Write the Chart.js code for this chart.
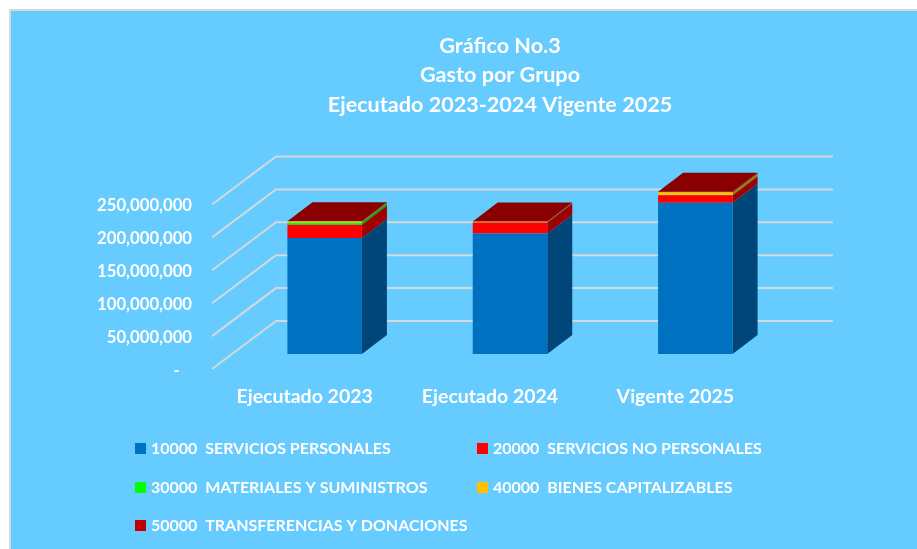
<!DOCTYPE html>
<html>
<head>
<meta charset="utf-8">
<style>
html,body{margin:0;padding:0;background:#fff;overflow:hidden}
canvas{display:block}
</style>
<script src="https://cdn.jsdelivr.net/npm/chart.js@4"></script>
</head>
<body>
<canvas id="c" width="917" height="549"></canvas>
<script>
const categories = ["Ejecutado 2023", "Ejecutado 2024", "Vigente 2025"];
const serviciosPersonales = [176300000, 183000000, 229700000];
const serviciosNoPersonales = [20300000, 17000000, 11600000];
const materiales = [3000000, 300000, 300000];
const bienes = [1900000, 800000, 4400000];
const transferencias = [400000, 400000, 500000];
const titleLines = ["Gráfico No.3", "Gasto por Grupo", "Ejecutado 2023-2024 Vigente 2025"];
const FONT = "Lato, 'Open Sans', sans-serif";

const shade = (hex, f) => {
  const n = parseInt(hex.slice(1), 16);
  return `rgb(${((n >> 16) & 255) * f | 0},${((n >> 8) & 255) * f | 0},${(n & 255) * f | 0})`;
};

const depthPlugin = {
  id: 'depth',
  beforeDraw(chart) {
    const c = chart.ctx;
    c.save();
    c.fillStyle = '#fff';
    c.fillRect(0, 0, chart.width, chart.height);
    c.fillStyle = '#D9D9D9';
    c.fillRect(9, 9, chart.width - 9, chart.height - 9);
    c.fillStyle = '#66CBFF';
    c.fillRect(11, 11, chart.width - 11, chart.height - 11);
    c.restore();
  },
  beforeDatasetsDraw(chart) {
    const c = chart.ctx, ys = chart.scales.y, xs = chart.scales.x;
    c.save();
    c.translate(0, -1.5);
    // floor / wall gridlines
    c.strokeStyle = '#D4D9DC';
    c.lineWidth = 2;
    ys.ticks.forEach(t => {
      const y = ys.getPixelForValue(t.value);
      c.beginPath();
      c.moveTo(xs.left, y);
      c.lineTo(xs.left + 64, y - 48);
      c.lineTo(xs.right + 65, y - 48);
      c.stroke();
    });
    // bars stand part-way into the depth of the floor
    c.translate(20, -15);
    const bx = 25, by = 19;
    chart.data.datasets.forEach((ds, i) => {
      chart.getDatasetMeta(i).data.forEach(el => {
        const r = el.x + el.width / 2, l = el.x - el.width / 2;
        c.fillStyle = shade(ds.backgroundColor, 0.63);
        c.beginPath();
        c.moveTo(r, el.y); c.lineTo(r, el.base);
        c.lineTo(r + bx, el.base - by); c.lineTo(r + bx, el.y - by);
        c.closePath(); c.fill();
        if (i === chart.data.datasets.length - 1) {
          c.fillStyle = shade(ds.backgroundColor, 0.72);
          c.beginPath();
          c.moveTo(l, el.y); c.lineTo(r, el.y);
          c.lineTo(r + bx, el.y - by); c.lineTo(l + bx, el.y - by);
          c.closePath(); c.fill();
        }
      });
    });
  },
  afterDatasetsDraw(chart) {
    chart.ctx.restore();
  },
  afterDraw(chart) {
    const c = chart.ctx;
    const cols = [135, 477], rows = [449, 488, 526];
    c.save();
    c.textBaseline = 'middle';
    c.textAlign = 'left';
    c.font = `700 16px ${FONT}`;
    chart.data.datasets.forEach((ds, i) => {
      const x = cols[i % 2], y = rows[Math.floor(i / 2)];
      c.fillStyle = ds.backgroundColor;
      c.fillRect(x, y - 6, 11, 11);
      c.fillStyle = '#fff';
      c.fillText(ds.label, x + 16, y);
    });
    c.restore();
  }
};

new Chart(document.getElementById('c'), {
  type: 'bar',
  data: {
    labels: categories,
    datasets: [
      { label: "10000  SERVICIOS PERSONALES", data: serviciosPersonales, backgroundColor: '#0070C0' },
      { label: "20000  SERVICIOS NO PERSONALES", data: serviciosNoPersonales, backgroundColor: '#FF0000' },
      { label: "30000  MATERIALES Y SUMINISTROS", data: materiales, backgroundColor: '#00FF00' },
      { label: "40000  BIENES CAPITALIZABLES", data: bienes, backgroundColor: '#FFC000' },
      { label: "50000  TRANSFERENCIAS Y DONACIONES", data: transferencias, backgroundColor: '#C00000' }
    ]
  },
  options: {
    responsive: false,
    animation: false,
    layout: { padding: { left: 83, right: 0, top: 0, bottom: 0 } },
    datasets: { bar: { barPercentage: 0.402, categoryPercentage: 1, clip: false } },
    plugins: {
      legend: { display: false },
      tooltip: { enabled: false },
      title: {
        display: true,
        text: titleLines,
        color: '#fff',
        font: { family: FONT, size: 21.6, weight: '700', lineHeight: 1.366 },
        padding: { top: 31, bottom: 86.5 }
      }
    },
    scales: {
      x: {
        stacked: true,
        grid: { display: false, drawTicks: false },
        border: { display: false },
        ticks: { color: '#fff', padding: 15, maxRotation: 0, font: { family: FONT, size: 19.5, weight: '700' } },
        afterFit(s) { s.height = 178.5; }
      },
      y: {
        stacked: true,
        min: 0,
        max: 250000000,
        grid: { display: false, drawTicks: false },
        border: { display: false },
        ticks: {
          stepSize: 50000000,
          color: '#fff',
          padding: 20,
          font: { family: FONT, size: 16.7, weight: '700' },
          callback: v => v === 0 ? '-   ' : v.toLocaleString('en-US')
        },
        afterFit(s) { s.width = 129; }
      },
      rightSpace: {
        type: 'linear',
        position: 'right',
        display: true,
        grid: { display: false },
        border: { display: false },
        ticks: { display: false },
        afterFit(s) { s.width = 149; }
      }
    }
  },
  plugins: [depthPlugin]
});
</script>
</body>
</html>
